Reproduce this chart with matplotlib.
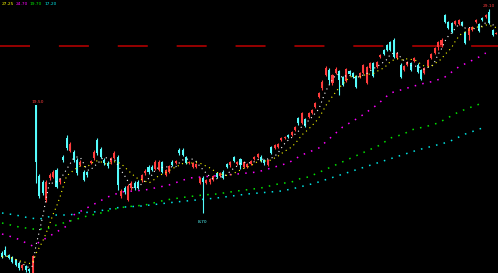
import matplotlib
matplotlib.use("Agg")
import matplotlib.pyplot as plt
import numpy as np
import pandas as pd

# daily candles (price)
opens = [4.7, 5.0, 4.5, 4.3, 4.0, 3.7, 3.2, 3.4, 3.1, 2.7,
         19.5, 12.4, 11.8, 10.0, 12.2, 12.3, 13.0, 11.8, 14.3, 16.2,
         14.9, 14.8, 14.0, 13.5, 12.8, 12.8, 13.7, 14.2, 16.0, 15.1,
         14.0, 13.7, 13.8, 14.2, 14.3, 10.4, 11.2, 10.0, 11.2, 11.7,
         11.8, 12.0, 12.7, 13.3, 13.3, 13.1, 13.0, 13.8, 12.5, 12.8,
         13.8, 13.7, 15.0, 15.0, 14.3, 13.7, 13.3, 13.3, 11.7, 12.2,
         11.7, 11.8, 12.0, 12.7, 12.4, 12.8, 13.6, 13.5, 14.3, 13.6,
         14.1, 13.3, 13.3, 13.6, 14.1, 14.3, 14.3, 14.0, 13.5, 15.3,
         15.2, 15.3, 16.0, 16.2, 16.5, 16.5, 17.0, 18.2, 17.7, 18.1,
         18.3, 18.7, 19.3, 20.3, 21.2, 22.5, 23.0, 21.7, 22.7, 22.9,
         22.3, 21.9, 22.9, 22.7, 22.4, 22.3, 22.7, 21.7, 23.2, 23.7,
         23.3, 24.3, 25.0, 25.5, 25.8, 26.0, 24.2, 23.5, 23.0, 23.5,
         23.7, 23.9, 23.5, 23.0, 22.7, 23.4, 24.2, 24.7, 25.3, 25.5,
         28.5, 27.8, 27.7, 27.6, 27.6, 27.8, 26.8, 26.5, 27.0, 27.8,
         27.6, 28.2, 28.3, 28.8, 27.0, 26.6]
closes = [4.3, 4.5, 4.2, 3.8, 3.5, 3.2, 3.5, 3.0, 2.9, 4.4,
          13.8, 10.4, 10.7, 11.8, 12.5, 12.8, 11.3, 12.1, 14.0, 15.2,
          15.6, 14.0, 12.7, 13.8, 12.0, 12.5, 13.9, 14.8, 14.7, 14.3,
          13.7, 13.4, 14.2, 14.7, 11.5, 10.9, 10.8, 11.4, 11.7, 11.2,
          11.3, 12.5, 12.9, 12.8, 13.0, 13.8, 13.8, 12.8, 13.0, 13.4,
          13.5, 13.9, 14.7, 14.5, 13.7, 13.8, 13.7, 13.6, 12.2, 11.8,
          12.0, 12.1, 12.4, 12.3, 12.7, 12.2, 13.3, 13.8, 13.9, 13.8,
          13.5, 13.8, 13.6, 13.9, 14.3, 14.6, 13.9, 13.7, 14.0, 14.7,
          15.5, 15.6, 16.2, 16.3, 16.3, 16.8, 17.3, 17.7, 18.7, 17.4,
          18.7, 19.0, 19.7, 20.7, 21.8, 23.2, 22.0, 22.5, 23.1, 22.0,
          21.5, 23.1, 22.6, 22.3, 21.3, 22.7, 23.5, 23.3, 23.7, 22.4,
          23.8, 24.5, 24.6, 25.0, 25.0, 24.3, 24.7, 22.3, 23.4, 23.8,
          23.0, 24.2, 22.8, 22.1, 23.2, 24.0, 24.6, 25.2, 25.8, 26.0,
          27.8, 27.2, 26.8, 27.9, 28.0, 27.5, 25.7, 27.2, 27.3, 28.0,
          26.9, 28.0, 28.5, 27.7, 26.5, 26.7]
highs = [4.9, 5.4, 4.6, 4.4, 4.1, 3.8, 3.6, 3.5, 3.2, 4.5,
         19.5, 12.6, 12.0, 12.0, 12.7, 13.0, 13.2, 12.2, 14.5, 16.5,
         15.8, 15.0, 14.2, 14.0, 13.0, 12.9, 14.0, 15.0, 16.2, 15.3,
         14.2, 13.9, 14.3, 14.9, 14.5, 11.1, 11.4, 11.6, 11.9, 11.9,
         12.0, 12.6, 13.1, 13.5, 13.5, 14.0, 14.0, 13.9, 13.1, 13.5,
         14.0, 14.0, 15.2, 15.2, 14.4, 13.9, 13.8, 13.7, 12.3, 12.4,
         12.1, 12.2, 12.5, 12.8, 12.8, 13.0, 13.7, 13.9, 14.4, 13.9,
         14.2, 13.9, 13.7, 14.0, 14.4, 14.7, 14.5, 14.1, 14.1, 15.4,
         15.6, 15.7, 16.3, 16.4, 16.6, 16.9, 17.4, 18.3, 18.8, 18.2,
         18.8, 19.1, 19.8, 20.8, 22.0, 23.4, 23.2, 22.6, 23.3, 23.0,
         22.4, 23.2, 23.0, 22.8, 22.5, 22.8, 23.6, 23.4, 23.8, 23.8,
         23.9, 24.6, 25.1, 25.6, 25.9, 26.2, 24.8, 23.7, 23.5, 23.9,
         23.8, 24.3, 23.7, 23.1, 23.3, 24.1, 24.7, 25.3, 25.9, 26.2,
         28.6, 27.9, 27.8, 28.0, 28.1, 27.9, 26.9, 27.3, 27.4, 28.1,
         27.7, 28.3, 28.6, 29.1, 27.1, 26.8]
lows = [4.2, 4.4, 4.1, 3.7, 3.4, 3.0, 3.0, 2.8, 2.7, 2.6,
        11.7, 10.2, 10.5, 9.8, 12.0, 12.2, 11.2, 11.6, 13.8, 15.0,
        14.8, 13.8, 12.5, 13.4, 11.9, 12.3, 13.6, 14.0, 14.5, 14.2,
        13.5, 13.2, 13.6, 14.1, 11.0, 10.2, 10.6, 9.9, 11.0, 11.0,
        11.1, 11.8, 12.5, 12.6, 12.9, 13.0, 12.9, 12.7, 12.4, 12.7,
        13.4, 13.6, 14.5, 14.4, 13.6, 13.6, 13.2, 13.2, 11.6, 8.7,
        11.6, 11.6, 11.9, 12.2, 12.3, 12.1, 13.2, 13.3, 13.8, 13.5,
        13.1, 13.2, 13.2, 13.5, 14.0, 14.2, 13.8, 13.5, 13.4, 14.6,
        15.1, 15.2, 15.9, 16.1, 16.2, 16.4, 16.9, 17.5, 17.6, 17.3,
        18.2, 18.6, 19.2, 20.2, 21.0, 22.4, 21.6, 21.5, 22.6, 20.5,
        21.4, 21.8, 22.5, 22.2, 21.2, 22.2, 22.6, 21.6, 23.1, 22.3,
        23.2, 24.2, 24.5, 24.9, 24.9, 24.2, 24.1, 22.2, 22.9, 23.4,
        22.9, 23.8, 22.7, 22.0, 22.6, 23.3, 24.1, 24.6, 25.0, 25.3,
        27.7, 27.1, 26.7, 27.5, 27.5, 27.4, 25.6, 26.0, 26.9, 27.7,
        26.8, 27.9, 28.2, 27.6, 26.4, 26.6]

# longer moving averages (bar index, price)
ma20_idx = [0, 4, 9, 15, 19, 21, 26, 31, 35, 42, 49, 55, 62, 69, 75, 80,
            84, 88, 93, 100, 105, 110, 114, 118, 123, 127, 130, 134, 137, 140, 142]
ma20_val = [6.6, 6.2, 5.4, 6.6, 7.4, 8.5, 9.4, 10.3, 10.8, 11.0, 11.5, 12.2,
            12.4, 12.6, 12.8, 13.3, 13.7, 14.5, 15.2, 17.3, 18.3, 19.5, 20.7,
            21.1, 21.6, 21.9, 22.3, 23.3, 23.8, 24.3, 24.7]
ma60_idx = [0, 5, 9, 13, 16, 21, 25, 29, 33, 36, 42, 48, 54, 59, 63, 69, 76,
            81, 85, 88, 90, 111, 114, 118, 120, 125, 128, 134, 137, 141]
ma60_val = [7.7, 7.3, 7.1, 7.1, 7.5, 8.0, 8.4, 8.7, 9.1, 9.3, 9.5, 10.0, 10.3,
            10.5, 10.6, 10.9, 11.2, 11.6, 11.8, 12.2, 12.3, 15.5, 16.2, 16.6,
            17.0, 17.4, 17.7, 18.8, 19.2, 19.7]
ma120_idx = [0, 4, 8, 11, 16, 20, 22, 27, 30, 33, 36, 41, 51, 63, 72, 82, 85,
             92, 111, 122, 131, 136, 141]
ma120_val = [8.7, 8.5, 8.2, 8.1, 8.5, 8.5, 8.7, 8.8, 9.0, 9.2, 9.3, 9.4, 9.8,
             10.2, 10.6, 10.9, 11.1, 11.7, 13.8, 15.0, 15.8, 16.6, 17.2]

pressure_line = 25.4

UP = "#ff3c3c"
DOWN = "#54fcfc"

plt.rcParams["lines.scale_dashes"] = False

fig = plt.figure(figsize=(4.98, 2.73), dpi=100, facecolor="#000000")
ax = fig.add_axes([0, 0, 1, 1])
ax.set_facecolor("#000000")
ax.set_axis_off()

o = np.array(opens)
c = np.array(closes)
h = np.array(highs)
l = np.array(lows)
x = np.arange(len(c))
colors = [UP if cc >= oo else DOWN for oo, cc in zip(o, c)]

ax.vlines(x, l, h, colors=colors, linewidth=0.8, zorder=3)
bottom = np.minimum(o, c)
height = np.maximum(np.abs(c - o), 0.1)
ax.bar(x, height, bottom=bottom, width=0.6, color=colors, linewidth=0, zorder=4)

close_s = pd.Series(c)
ma5 = close_s.rolling(5, min_periods=1).mean()
ma10 = close_s.rolling(10, min_periods=1).mean()
ax.plot(x, ma5, color="white", lw=0.8, ls=(0, (0.8, 2.6)), zorder=5)
ax.plot(x, ma10, color="#ffff00", lw=0.8, ls=(0, (0.8, 2.6)), zorder=5)
ax.plot(ma20_idx, ma20_val, color="#ff00ff", lw=1.1, ls=(0, (1.1, 4.5)), zorder=2)
ax.plot(ma60_idx, ma60_val, color="#00e600", lw=1.1, ls=(0, (1.1, 4.5)), zorder=2)
ax.plot(ma120_idx, ma120_val, color="#00e6e6", lw=1.1, ls=(0, (1.1, 4.5)), zorder=2)

ax.axhline(pressure_line, color="#b00000", lw=1.2, ls=(0, (21.6, 20.8)), zorder=1)

# high / low labels
spike = int(np.argmax(h[:20]))
ax.annotate(f"{h[spike]:.2f}", (x[spike], h[spike]), xytext=(1, 1),
            textcoords="offset points", ha="center", va="bottom",
            color=UP, fontsize=3.2)
top = int(np.argmax(h))
ax.annotate(f"{h[top]:.2f}", (x[top], h[top]), xytext=(0, 1),
            textcoords="offset points", ha="center", va="bottom",
            color=UP, fontsize=3.2)
bot = 40 + int(np.argmin(l[40:]))
ax.annotate(f"{l[bot]:.2f}", (x[bot], l[bot]), xytext=(0, -5),
            textcoords="offset points", ha="center", va="top",
            color=DOWN, fontsize=3.2)

# moving average legend
legend_vals = [(ma10.iloc[-1], "#ffff00"), (ma20_val[-1], "#ff00ff"),
               (ma60_val[-1], "#00e600"), (ma120_val[-1], "#00e6e6")]
for k, (val, col) in enumerate(legend_vals):
    fig.text(0.003 + k * 0.0285, 0.992, f"{val:.2f}", color=col,
             fontsize=3.2, ha="left", va="top")

ax.set_xlim(-0.587, 145.58)
ax.set_ylim(2.7, 30.0)

fig.savefig("out.png", dpi=100, facecolor="#000000")
